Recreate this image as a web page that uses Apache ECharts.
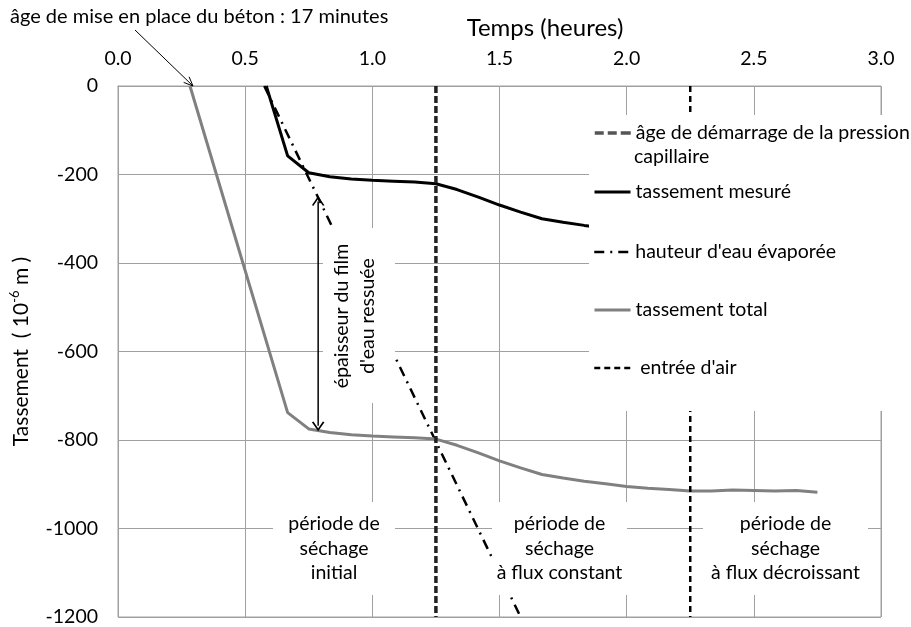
<!DOCTYPE html>
<html>
<head>
<meta charset="utf-8">
<script src="https://cdn.jsdelivr.net/npm/echarts@6/dist/echarts.min.js"></script>
<style>
  html, body { margin: 0; padding: 0; background: #fff; }
  #chart { width: 911px; height: 627px; }
</style>
</head>
<body>
<div id="chart"></div>
<script>
// time axis ticks (heures) and settlement ticks (10^-6 m)
const xTicks = [0.0, 0.5, 1.0, 1.5, 2.0, 2.5, 3.0];
const yTicks = [0, -200, -400, -600, -800, -1000, -1200];

// tassement total
const hoursTotal = [0.283, 0.667, 0.75, 0.833, 0.917, 1.0, 1.083, 1.167, 1.25, 1.333, 1.417, 1.5, 1.583,
  1.667, 1.75, 1.833, 1.917, 2.0, 2.083, 2.167, 2.25, 2.333, 2.417, 2.5, 2.583, 2.667, 2.75];
const tassTotal = [0, -738, -775, -783, -788, -791, -793, -795, -798, -812, -829, -847, -863,
  -878, -886, -893, -899, -905, -909, -912, -915, -915, -913, -914, -915, -914, -918];

// tassement mesuré
const hoursMesure = [0.583, 0.667, 0.75, 0.833, 0.917, 1.0, 1.083, 1.167, 1.25, 1.333, 1.417, 1.5, 1.583,
  1.667, 1.75, 1.833, 1.917, 2.0, 2.083, 2.167, 2.25, 2.333, 2.417, 2.5, 2.583, 2.667, 2.75];
const tassMesure = [0, -158, -196, -205, -210, -213, -215, -217, -221, -234, -251, -269, -285,
  -300, -308, -315, -321, -327, -331, -334, -337, -337, -335, -336, -337, -336, -340];

// hauteur d'eau évaporée
const hoursEvap = [0.575, 1.583];
const tassEvap = [0, -1200];

// âge de démarrage de la pression capillaire / entrée d'air (vertical markers)
const hoursCap = [1.25, 1.25];
const hoursAir = [2.25, 2.25];
const verticalSpan = [0, -1200];

// double arrow: épaisseur du film d'eau ressuée
const hoursFilm = [0.787, 0.787];
const tassFilm = [-261, -768];

const seriesNames = [
  'âge de démarrage de la pression capillaire',
  'tassement mesuré',
  "hauteur d'eau évaporée",
  'tassement total',
  "entrée d'air",
];

const FONT = 'Lato, "Noto Sans", sans-serif';
const FS = 19.5;
const pairs = (xs, ys) => xs.map((x, i) => [x, ys[i]]);

// line looks, shared by series and their legend icons
const lineLooks = [
  { color: '#222', width: 3.5, type: [7, 3] },
  { color: '#000', width: 3, type: 'solid' },
  { color: '#000', width: 2.5, type: [10, 6, 2, 6] },
  { color: '#808080', width: 3, type: 'solid' },
  { color: '#000', width: 2.5, type: [6, 4] },
];

const chart = echarts.init(document.getElementById('chart'));

// one legend per entry so each line sits where it does in the original
const legendTops = [121, 180, 240, 298, 356];
const legends = seriesNames.map((name, i) => ({
  data: [name],
  left: 593,
  top: legendTops[i],
  z: 8,
  padding: 0,
  itemWidth: 36,
  itemHeight: 12,
  selectedMode: false,
  itemStyle: { opacity: 0 },
  lineStyle: {
    color: i === 0 ? '#555' : lineLooks[i].color,
    width: lineLooks[i].width,
    type: i === 0 ? [9, 4, 9, 4, 3, 0] : lineLooks[i].type,
  },
  formatter: i === 0 ? 'âge de démarrage de la pression' : (i === 4 ? ' {name}' : '{name}'),
  textStyle: { color: '#000', fontFamily: FONT, fontSize: FS, lineHeight: 24 },
}));

// arrow head helper for the top-left annotation
function arrowHead(x1, y1, x2, y2, len, ang) {
  const a = Math.atan2(y1 - y2, x1 - x2);
  return [
    [x2 + len * Math.cos(a + ang), y2 + len * Math.sin(a + ang)],
    [x2, y2],
    [x2 + len * Math.cos(a - ang), y2 + len * Math.sin(a - ang)],
  ];
}

// white text boxes laid over the plot, like in the spreadsheet
function textBox(x, y, w, h, text) {
  return {
    type: 'group',
    z: 10,
    children: [
      { type: 'rect', shape: { x: x, y: y, width: w, height: h }, style: { fill: '#fff' }, z: 10 },
      {
        type: 'text', z: 11,
        style: {
          text: text, x: x + w / 2, y: y + h / 2, align: 'center', verticalAlign: 'middle',
          fill: '#000', fontFamily: FONT, fontSize: FS, lineHeight: 24.5,
        },
      },
    ],
  };
}

const mainSeries = [
  pairs(hoursCap, verticalSpan),
  pairs(hoursMesure, tassMesure),
  pairs(hoursEvap, tassEvap),
  pairs(hoursTotal, tassTotal),
  pairs(hoursAir, verticalSpan),
].map((data, i) => ({
  name: seriesNames[i],
  type: 'line',
  data: data,
  symbol: 'none',
  z: (i === 0 || i === 4) ? 3 : 2,
  lineStyle: lineLooks[i],
  itemStyle: { color: lineLooks[i].color },
}));

const option = {
  animation: false,
  backgroundColor: '#fff',
  grid: {
    left: 111, right: 30, top: 86, bottom: 9,
    show: true, borderColor: '#a0a0a0', borderWidth: 1,
  },
  legend: legends,
  xAxis: {
    type: 'value',
    position: 'top',
    min: xTicks[0],
    max: xTicks[xTicks.length - 1],
    interval: 0.5,
    axisLine: { show: true, lineStyle: { color: '#a0a0a0' } },
    axisTick: { show: false },
    axisLabel: {
      color: '#000', fontFamily: FONT, fontSize: FS, margin: 17,
      formatter: (v) => v.toFixed(1),
    },
    splitLine: { show: true, lineStyle: { color: '#a0a0a0', width: 1 } },
  },
  yAxis: {
    type: 'value',
    min: yTicks[yTicks.length - 1],
    max: yTicks[0],
    interval: 200,
    axisLine: { show: true, lineStyle: { color: '#a0a0a0' } },
    axisTick: { show: false },
    axisLabel: {
      color: '#000', fontFamily: FONT, fontSize: FS, margin: 20,
      formatter: (v) => String(v),
    },
    splitLine: { show: true, lineStyle: { color: '#a0a0a0', width: 1 } },
    name: '{a|Tassement  ( 10}{s|-6}{a| m )}',
    nameLocation: 'middle',
    nameGap: 84,
    nameTextStyle: {
      rich: {
        a: { fontFamily: FONT, fontSize: 21, color: '#000', lineHeight: 26 },
        s: { fontFamily: FONT, fontSize: 13, color: '#000', verticalAlign: 'top', lineHeight: 14 },
      },
    },
  },
  series: mainSeries.concat([
    {
      name: 'épaisseur', type: 'line',
      data: [
        { value: [hoursFilm[0], tassFilm[0]], symbolRotate: 0 },
        { value: [hoursFilm[1], tassFilm[1]], symbolRotate: 180 },
      ],
      symbol: 'path://M0,10 L5,0 L10,10', symbolSize: [11, 8], showSymbol: true,
      z: 4,
      lineStyle: { color: '#000', width: 1.5 },
      itemStyle: { color: 'rgba(0,0,0,0)', borderColor: '#000', borderWidth: 1.5 },
    },
  ]),
  graphic: [
    // legend area hides what runs under it
    { type: 'rect', z: 6, shape: { x: 589, y: 115, width: 322, height: 296 }, style: { fill: '#fff' } },
    {
      type: 'text', z: 8,
      style: { text: 'capillaire', x: 634, y: 157, align: 'left', verticalAlign: 'middle',
        fill: '#000', fontFamily: FONT, fontSize: FS },
    },
    {
      type: 'text', z: 6,
      style: { text: 'Temps (heures)', x: 545, y: 28, align: 'center', verticalAlign: 'middle',
        fill: '#000', fontFamily: FONT, fontSize: 24 },
    },
    {
      type: 'text', z: 6,
      style: { text: 'âge de mise en place du béton : 17 minutes', x: 10, y: 17, align: 'left',
        verticalAlign: 'middle', fill: '#000', fontFamily: FONT, fontSize: 20 },
    },
    { type: 'line', z: 6, shape: { x1: 135, y1: 30, x2: 193, y2: 86 }, style: { stroke: '#000', lineWidth: 1 } },
    {
      type: 'polyline', z: 6, shape: { points: arrowHead(135, 30, 193, 86, 10, 0.4) },
      style: { stroke: '#000', fill: null, lineWidth: 1 },
    },
    textBox(273, 502, 122, 93, 'période de\nséchage\ninitial'),
    textBox(492, 502, 135, 93, 'période de\nséchage\nà flux constant'),
    textBox(703, 502, 165, 93, 'période de\nséchage\nà flux décroissant'),
    { type: 'rect', z: 10, shape: { x: 323, y: 228, width: 72, height: 175 }, style: { fill: '#fff' } },
    {
      type: 'text', z: 11, x: 355, y: 316, rotation: Math.PI / 2,
      style: { text: 'épaisseur du film\nd\'eau ressuée', x: 0, y: 0, align: 'center', verticalAlign: 'middle',
        fill: '#000', fontFamily: FONT, fontSize: FS, lineHeight: 26 },
    },
  ],
};

chart.setOption(option);
</script>
</body>
</html>
